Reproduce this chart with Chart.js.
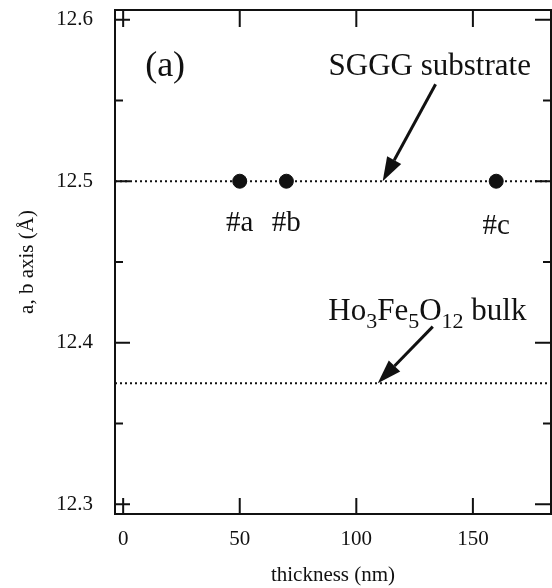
<!DOCTYPE html>
<html>
<head>
<meta charset="utf-8">
<script src="https://cdn.jsdelivr.net/npm/chart.js@4.4.1/dist/chart.umd.min.js"></script>
<style>
  body { margin: 0; background: #fff; }
  #wrap { width: 552px; height: 588px; position: relative; }
</style>
</head>
<body>
<div id="wrap"><canvas id="latticeChart"></canvas></div>
<script>
// film samples: thickness (nm) vs in-plane lattice constant (Å)
const thickness = [50, 70, 160];
const abAxis = [12.5, 12.5, 12.5];
const sampleNames = ['#a', '#b', '#c'];

// reference lattice constants: SGGG substrate, Ho3Fe5O12 bulk
const refLattice = [12.5, 12.375];

// axis ticks
const xTickValues = [0, 50, 100, 150];
const yMajorTicks = [12.3, 12.4, 12.5, 12.6];
const yMinorTicks = [12.35, 12.45, 12.55];

const X_MIN = -3.5, X_MAX = 183.5, Y_MIN = 12.294, Y_MAX = 12.606;
const FONT = "'Liberation Serif', 'Times New Roman', serif";
const INK = '#111';

// annotation placement in data coords
const notes = {
    panel: { x: 18, y: 12.565 },
    sggg: { x: 131.5, y: 12.566, from: [134, 12.56], to: [111.3, 12.5] },
    bulk: { x: 88, y: 12.414, from: [132.8, 12.41], to: [109.2, 12.375] }
};
const labelDrop = [50, 50, 53]; // px below the dot, text baseline

function drawArrow(ctx, x0, y0, x1, y1) {
    const ang = Math.atan2(y1 - y0, x1 - x0);
    const head = 24, half = 8;
    const bx = x1 - head * Math.cos(ang), by = y1 - head * Math.sin(ang);
    ctx.beginPath();
    ctx.moveTo(x0, y0);
    ctx.lineTo(bx, by);
    ctx.lineWidth = 3;
    ctx.stroke();
    ctx.beginPath();
    ctx.moveTo(x1, y1);
    ctx.lineTo(bx + half * Math.sin(ang), by - half * Math.cos(ang));
    ctx.lineTo(bx - half * Math.sin(ang), by + half * Math.cos(ang));
    ctx.closePath();
    ctx.fill();
}

// no label overhang padding: keep the frame where the reference has it
function noPad(s) {
    s.paddingLeft = 0; s.paddingRight = 0; s.paddingTop = 0; s.paddingBottom = 0;
}

const decorations = {
    id: 'decorations',
    afterDatasetsDraw(chart) {
        const { ctx, chartArea: a, scales: { x, y } } = chart;
        ctx.save();
        ctx.strokeStyle = INK;
        ctx.fillStyle = INK;
        ctx.lineWidth = 2;
        ctx.strokeRect(a.left, a.top, a.right - a.left, a.bottom - a.top);

        // inward ticks on all four sides
        ctx.beginPath();
        xTickValues.forEach(v => {
            const px = x.getPixelForValue(v);
            ctx.moveTo(px, a.bottom); ctx.lineTo(px, a.bottom - 16);
            ctx.moveTo(px, a.top); ctx.lineTo(px, a.top + 17);
        });
        yMajorTicks.forEach(v => {
            const py = y.getPixelForValue(v);
            ctx.moveTo(a.left, py); ctx.lineTo(a.left + 15, py);
            ctx.moveTo(a.right, py); ctx.lineTo(a.right - 16, py);
        });
        yMinorTicks.forEach(v => {
            const py = y.getPixelForValue(v);
            ctx.moveTo(a.left, py); ctx.lineTo(a.left + 8, py);
            ctx.moveTo(a.right, py); ctx.lineTo(a.right - 8, py);
        });
        ctx.stroke();

        // sample labels under the dots
        ctx.textAlign = 'center';
        ctx.textBaseline = 'alphabetic';
        ctx.font = `29px ${FONT}`;
        sampleNames.forEach((name, i) => {
            ctx.fillText(name, x.getPixelForValue(thickness[i]), y.getPixelForValue(abAxis[i]) + labelDrop[i]);
        });

        // panel tag
        ctx.font = `36px ${FONT}`;
        ctx.fillText('(a)', x.getPixelForValue(notes.panel.x), y.getPixelForValue(notes.panel.y));

        // SGGG substrate
        ctx.font = `31px ${FONT}`;
        ctx.fillText('SGGG substrate', x.getPixelForValue(notes.sggg.x), y.getPixelForValue(notes.sggg.y));
        drawArrow(ctx,
            x.getPixelForValue(notes.sggg.from[0]), y.getPixelForValue(notes.sggg.from[1]),
            x.getPixelForValue(notes.sggg.to[0]), y.getPixelForValue(notes.sggg.to[1]));

        // Ho3Fe5O12 bulk with subscripts
        const parts = [['Ho', 0], ['3', 1], ['Fe', 0], ['5', 1], ['O', 0], ['12', 1], [' bulk', 0]];
        let cx = x.getPixelForValue(notes.bulk.x);
        const by = y.getPixelForValue(notes.bulk.y);
        ctx.textAlign = 'left';
        parts.forEach(([t, sub]) => {
            ctx.font = sub ? `22px ${FONT}` : `31px ${FONT}`;
            ctx.fillText(t, cx, sub ? by + 8 : by);
            cx += ctx.measureText(t).width;
        });
        drawArrow(ctx,
            x.getPixelForValue(notes.bulk.from[0]), y.getPixelForValue(notes.bulk.from[1]),
            x.getPixelForValue(notes.bulk.to[0]), y.getPixelForValue(notes.bulk.to[1]));
        ctx.restore();
    }
};

const refDatasets = refLattice.map(v => ({
    type: 'line',
    data: [{ x: X_MIN, y: v }, { x: X_MAX, y: v }],
    borderColor: INK,
    borderWidth: 2,
    borderDash: [2, 3],
    pointRadius: 0,
    fill: false
}));

new Chart(document.getElementById('latticeChart'), {
    type: 'scatter',
    data: {
        datasets: [
            ...refDatasets,
            {
                data: thickness.map((t, i) => ({ x: t, y: abAxis[i] })),
                backgroundColor: INK,
                borderColor: INK,
                pointRadius: 7,
                pointHoverRadius: 7
            }
        ]
    },
    options: {
        responsive: true,
        maintainAspectRatio: false,
        devicePixelRatio: 1,
        animation: false,
        layout: { autoPadding: false, padding: { top: 10, right: 1, left: 0, bottom: 0 } },
        plugins: { legend: { display: false }, tooltip: { enabled: false } },
        scales: {
            x: {
                type: 'linear',
                min: X_MIN,
                max: X_MAX,
                afterFit: s => { s.height = 74; noPad(s); },
                afterBuildTicks: s => { s.ticks = xTickValues.map(v => ({ value: v })); },
                grid: { display: false, drawTicks: false },
                border: { display: false },
                ticks: {
                    color: INK,
                    padding: 13,
                    maxRotation: 0,
                    autoSkip: false,
                    font: { family: FONT, size: 21 }
                },
                title: {
                    display: true,
                    text: 'thickness (nm)',
                    color: INK,
                    padding: { top: -3, bottom: 0 },
                    font: { family: FONT, size: 21 }
                }
            },
            y: {
                min: Y_MIN,
                max: Y_MAX,
                afterFit: s => { s.width = 115; noPad(s); },
                afterBuildTicks: s => { s.ticks = yMajorTicks.map(v => ({ value: v })); },
                grid: { display: false, drawTicks: false },
                border: { display: false },
                ticks: {
                    color: INK,
                    padding: 22,
                    autoSkip: false,
                    font: { family: FONT, size: 21 },
                    callback: v => v.toFixed(1)
                },
                title: {
                    display: true,
                    text: 'a, b axis (Å)',
                    color: INK,
                    padding: { top: 15, bottom: 0 },
                    font: { family: FONT, size: 21 }
                }
            }
        }
    },
    plugins: [decorations]
});
</script>
</body>
</html>
